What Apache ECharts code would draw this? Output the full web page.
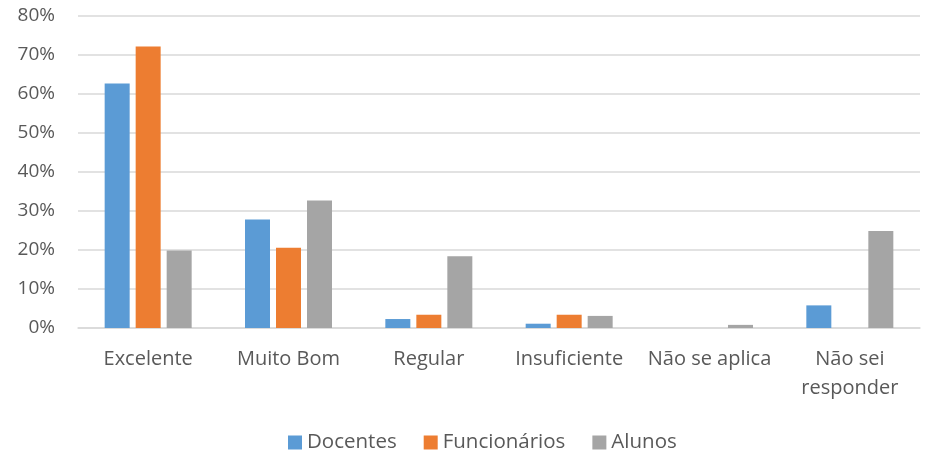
<!DOCTYPE html>
<html><head><meta charset="utf-8">
<script src="https://cdn.jsdelivr.net/npm/echarts@6/dist/echarts.min.js"></script>
<style>html,body{margin:0;padding:0;background:#fff}#c{width:929px;height:459px}</style>
</head><body><div id="c"></div>
<script>
const categories = ['Excelente', 'Muito Bom', 'Regular', 'Insuficiente', 'Não se aplica', 'Não sei\nresponder'];
const docentes = [62.7, 27.8, 2.3, 1.1, 0, 5.8];
const funcionarios = [72.2, 20.6, 3.4, 3.4, 0, 0];
const alunos = [19.9, 32.7, 18.4, 3.1, 0.8, 24.9];
const seriesNames = ['Docentes', 'Funcionários', 'Alunos'];
const colors = ['#5b9bd5', '#ed7d31', '#a5a5a5'];
const FONT = '"Open Sans", sans-serif';
const chart = echarts.init(document.getElementById('c'));
const mk = (name, data, i) => ({
  name, type: 'bar', data, barWidth: 25, barGap: '24%',
  itemStyle: { color: colors[i] },
  animation: false
});
chart.setOption({
  animation: false,
  textStyle: { fontFamily: FONT },
  grid: { left: 78, right: 9, top: 16, bottom: 131, containLabel: false },
  legend: {
    left: 283, top: 427, itemWidth: 14, itemHeight: 14, itemGap: 27,
    icon: 'rect',
    textStyle: { fontSize: 20.5, color: '#595959', fontFamily: FONT },
    data: seriesNames
  },
  xAxis: {
    type: 'category', data: categories,
    axisLine: { show: true, lineStyle: { color: '#d9d9d9', width: 1.5 } },
    axisTick: { show: false },
    axisLabel: { fontSize: 20, color: '#595959', margin: 17, lineHeight: 29, fontFamily: FONT, interval: 0 }
  },
  yAxis: {
    type: 'value', min: 0, max: 80, interval: 10,
    axisLine: { show: false }, axisTick: { show: false },
    splitLine: { lineStyle: { color: '#d9d9d9', width: 1.5 } },
    axisLabel: { formatter: '{value}%', fontSize: 19, color: '#595959', margin: 23, fontFamily: FONT }
  },
  series: [mk(seriesNames[0], docentes, 0), mk(seriesNames[1], funcionarios, 1), mk(seriesNames[2], alunos, 2)]
});
</script></body></html>
